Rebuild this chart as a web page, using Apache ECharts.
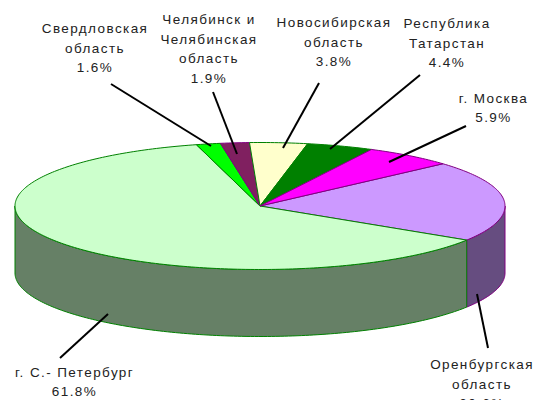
<!DOCTYPE html>
<html lang="ru">
<head>
    <meta charset="UTF-8">
    <title>Pie</title>
    <style>
        html, body { margin: 0; padding: 0; background: #fff; }
        #main { width: 537px; height: 400px; }
        #main svg text { letter-spacing: 1.4px; }
    </style>
</head>
<body>
<div id="main"></div>
<script src="https://cdn.jsdelivr.net/npm/echarts@6/dist/echarts.min.js"></script>
<script type="text/javascript">
    // clockwise order, starting from the Orenburg slice
    const regions = ['Оренбургская\nобласть', 'г. С.- Петербург', 'Свердловская\nобласть',
        'Челябинск и\nЧелябинская\nобласть', 'Новосибирская\nобласть', 'Республика\nТатарстан', 'г. Москва'];
    const shares = [20.6, 61.8, 1.6, 1.9, 3.8, 4.4, 5.9];

    const topColors = ['#CC99FF', '#CCFFCC', '#00FF00', '#802060', '#FFFFCC', '#008000', '#FF00FF'];
    const sideColors = ['#664D80', '#668066', '#008000', '#401030', '#808066', '#004000', '#800080'];
    const borderColors = ['#800080', '#008000', '#008000', '#800080', '#008000', '#008000', '#800080'];

    // label anchor (centre of the text block) and the two ends of its leader line
    const labelCenters = [[482, 384], [74.5, 382], [95, 48], [209, 49], [334, 42], [447, 43], [493.5, 108]];
    const leaderFrom = [[488, 348], [60, 358], [111, 84], [213, 92], [319, 83], [420, 75], [466, 126]];
    const leaderTo = [[477, 294], [108, 314], [211, 146], [237, 154], [283, 148], [330, 149], [389, 162]];

    // pie geometry
    const cx = 260, cy = 206, rx = 245, ry = 63.5, depth = 67;
    const startAngle = -41.7;

    const total = shares.reduce((a, b) => a + b, 0);
    const angles = [];
    let acc = startAngle;
    shares.forEach(v => {
        const next = acc + v / total * 360;
        angles.push([acc, next]);
        acc = next;
    });

    function rim(deg, dy) {
        const t = deg * Math.PI / 180;
        return [cx + rx * Math.cos(t), cy + ry * Math.sin(t) + (dy || 0)];
    }

    function arc(a, b, dy) {
        const pts = [];
        const n = Math.max(2, Math.ceil(Math.abs(b - a)));
        for (let i = 0; i <= n; i++) {
            pts.push(rim(a + (b - a) * i / n, dy));
        }
        return pts;
    }

    function renderSide(params) {
        const i = params.dataIndex;
        // only the front half of the wall can be seen
        const a = Math.max(angles[i][0], 0);
        const b = Math.min(angles[i][1], 180);
        if (b <= a) return null;
        const pts = arc(a, b, 0).concat(arc(b, a, depth));
        return {
            type: 'polygon',
            shape: { points: pts },
            style: { fill: sideColors[i], stroke: borderColors[i], lineWidth: 1 }
        };
    }

    function renderTop(params) {
        const i = params.dataIndex;
        const pts = [[cx, cy]].concat(arc(angles[i][0], angles[i][1], 0));
        return {
            type: 'polygon',
            shape: { points: pts },
            style: { fill: topColors[i], stroke: borderColors[i], lineWidth: 1 }
        };
    }

    function renderLabel(params, api) {
        const i = params.dataIndex;
        return {
            type: 'group',
            children: [{
                type: 'line',
                shape: {
                    x1: leaderFrom[i][0], y1: leaderFrom[i][1],
                    x2: leaderTo[i][0], y2: leaderTo[i][1]
                },
                style: { stroke: '#000', lineWidth: 2 }
            }, {
                type: 'text',
                x: labelCenters[i][0],
                y: labelCenters[i][1],
                style: {
                    text: regions[i] + '\n' + api.value(0).toFixed(1) + '%',
                    align: 'center',
                    verticalAlign: 'middle',
                    fill: '#222',
                    font: '13.5px "Liberation Sans"',
                    lineHeight: 19.4
                }
            }]
        };
    }

    const myChart = echarts.init(document.getElementById('main'), null, { renderer: 'svg' });
    const seriesData = shares.map(v => [v]);
    const option = {
        animation: false,
        backgroundColor: '#fff',
        series: [
            { type: 'custom', coordinateSystem: 'none', silent: true, z: 1, clip: false, renderItem: renderSide, data: seriesData },
            { type: 'custom', coordinateSystem: 'none', silent: true, z: 2, clip: false, renderItem: renderTop, data: seriesData },
            { type: 'custom', coordinateSystem: 'none', silent: true, z: 3, clip: false, renderItem: renderLabel, data: seriesData }
        ]
    };
    myChart.setOption(option);
</script>
</body>
</html>
